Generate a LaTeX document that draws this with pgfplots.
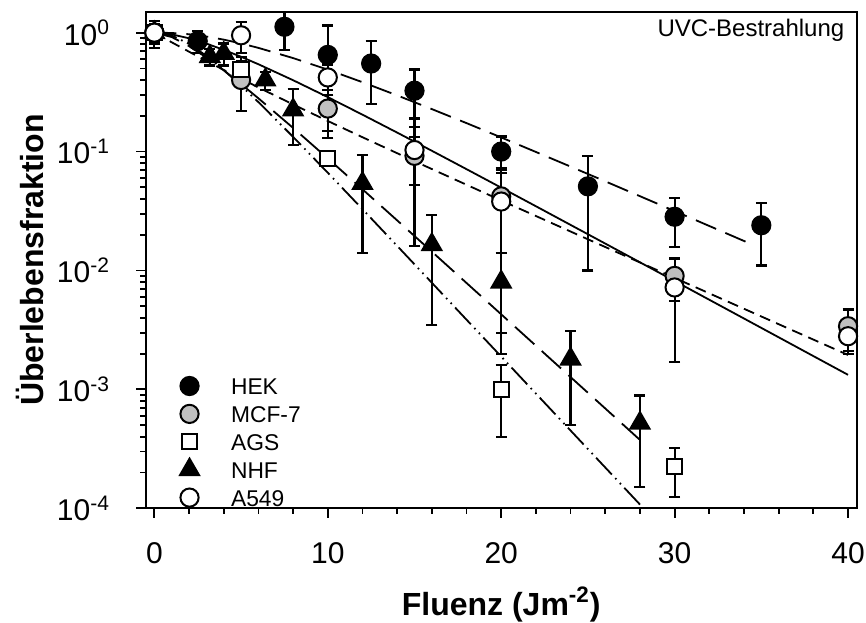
\documentclass[border=0pt]{standalone}
\usepackage{pgfplots}
\pgfplotsset{compat=1.18}
\usepackage{fontspec}
\setmainfont{Liberation Sans}
\definecolor{mcfgray}{RGB}{192,192,192}
\pgfplotsset{
  ebar/.style={black, only marks, line width=1pt, mark options={line width=0.9pt, solid},
    error bars/y dir=both, error bars/y explicit,
    error bars/error bar style={line width=1.1pt, solid, black},
    error bars/error mark options={rotate=90, mark size=2.75pt, line width=1.1pt}},
}
\begin{document}
\begin{tikzpicture}
\useasboundingbox (-72.85pt,-56.85pt) rectangle (360.15pt,254.15pt);
\begin{axis}[
  at={(0,0)}, anchor=south west,
  scale only axis, width=355.5pt, height=248.3pt,
  xmin=-0.5, xmax=40.5, ymin=1e-4, ymax=1.5, ymode=log,
  axis line style={line width=0.9pt},
  tick pos=left, tick align=outside,
  major tick length=4.8pt, minor tick length=2.6pt,
  every tick/.style={black, line width=0.9pt},
  xtick={0,10,20,30,40}, xticklabels={0,10,20,30,40},
  minor xtick={2,4,6,8,12,14,16,18,22,24,26,28,32,34,36,38},
  ytick={1e-4,1e-3,1e-2,1e-1,1},
  yticklabels={10\textsuperscript{-4},10\textsuperscript{-3},10\textsuperscript{-2},10\textsuperscript{-1},10\textsuperscript{0}},
  minor ytick={2e-4,3e-4,4e-4,5e-4,6e-4,7e-4,8e-4,9e-4,2e-3,3e-3,4e-3,5e-3,6e-3,7e-3,8e-3,9e-3,2e-2,3e-2,4e-2,5e-2,6e-2,7e-2,8e-2,9e-2,0.2,0.3,0.4,0.5,0.6,0.7,0.8,0.9},
  ticklabel style={font=\fontsize{15}{18}\selectfont},
  xticklabel style={yshift=-9pt},
  yticklabel style={xshift=-9.5pt},
  every axis x label/.style={at={(axis description cs:0.5,-0.2149)}, anchor=base, font=\fontsize{16}{19}\selectfont\bfseries},
  every axis y label/.style={at={(axis description cs:-0.144,0.5)}, anchor=base, rotate=90, font=\fontsize{16}{19}\selectfont\bfseries},
  xlabel={Fluenz (Jm\textsuperscript{-2})},
  ylabel={Überlebensfraktion},
  legend cell align=left,
  legend image code/.code={\draw[#1] plot coordinates {(0pt,0pt)};},
  legend style={draw=none, fill=none, inner sep=0pt, at={(axis description cs:0.0477,0.2723)}, anchor=north west,
    font=\fontsize{11.4}{14}\selectfont, row sep=1.45pt, column sep=16pt,
    nodes={inner sep=0pt, text height=10.5pt, text depth=2pt}},
]
% fitted curves
\addplot[forget plot, black, line width=0.9pt, dash pattern=on 11pt off 5pt] coordinates {
(0,1) (1,0.9936) (2,0.9691) (3,0.9276) (4,0.8734) (5,0.8110) (6,0.7447) (8,0.6111) (10,0.4885) (12,0.3832) (14,0.2967) (16,0.2276) (18,0.1735) (20,0.13145) (22,0.09925) (24,0.07475) (26,0.05619) (28,0.04216) (30,0.0316) (32,0.02367) (34.5,0.01647)};
\addplot[forget plot, black, line width=0.9pt] coordinates {
(0,1) (1,0.9675) (2,0.8966) (3,0.8088) (4,0.7166) (5,0.6266) (6,0.5424) (8,0.3982) (10,0.2870) (12,0.2043) (14,0.1444) (16,0.10155) (18,0.07114) (20,0.04972) (22,0.0347) (24,0.02417) (26,0.01684) (28,0.01172) (30,0.008155) (32,0.005673) (34,0.003946) (36,0.002743) (38,0.001907) (40,0.001326)};
\addplot[forget plot, black, line width=0.9pt, dash pattern=on 5.5pt off 3.3pt] coordinates {
(0,1) (1,0.8295) (2,0.6912) (3,0.5783) (4,0.4858) (5,0.4094) (6,0.3460) (8,0.2491) (10,0.1808) (12,0.1320) (15,0.0830) (20,0.0388) (25,0.0183) (30,0.00866) (35,0.004103) (40,0.001948)};
\addplot[forget plot, black, line width=0.9pt, dash pattern=on 13pt off 5pt] coordinates {
(0,1) (1,0.9182) (2,0.7702) (3,0.6174) (4,0.4819) (5,0.3698) (6,0.2804) (8,0.1581) (10,0.08761) (12,0.04818) (14,0.02638) (16,0.0144) (18,0.007851) (20,0.004279) (22,0.00233) (24,0.001269) (26,0.0006913) (27.96,0.0003807)};
\addplot[forget plot, black, line width=0.9pt, dash pattern=on 11.5pt off 2.5pt on 0.8pt off 2.5pt on 0.8pt off 2.5pt] coordinates {
(0,1) (1,0.9460) (2,0.8041) (3,0.6379) (4,0.4848) (5,0.3585) (6,0.2604) (8,0.13296) (10,0.06639) (12,0.03278) (14,0.0161) (16,0.007887) (18,0.003857) (20,0.001889) (22,0.0009227) (24,0.000451) (26,0.0002204) (28,0.0001077) (28.5,0.00009)};
% data
\addplot[ebar, mark=*, mark size=4.55pt, mark options={fill=black}]
  table[x=x, y=y, y error=e] {
x y e
0 1.0 0.26
2.5 0.85 0.18
7.5 1.12 0.40
10 0.65 0.50
12.5 0.55 0.30
15 0.325 0.165
20 0.10 0.034
25 0.051 0.041
30 0.0283 0.0125
35 0.024 0.013
};
\addlegendentry{HEK}
\addplot[ebar, mark=*, mark size=4.55pt, mark options={fill=mcfgray}]
  table[x=x, y=y, y error=e] {
x y e
0 1.0 0.19
5 0.40 0.18
10 0.23 0.10
15 0.092 0.04
20 0.042 0.028
30 0.009 0.0035
40 0.0034 0.0013
};
\addlegendentry{MCF-7}
\addplot[ebar, mark=square*, mark size=3.8pt, mark options={fill=white}]
  table[x=x, y=y, y error=e] {
x y e
0 1.0 0.1
5 0.49 0.13
10 0.088 0.01
20 0.001 0.0006
30 0.000224 0.0001
};
\addlegendentry{AGS}
\addplot[ebar, mark=triangle*, mark size=5.5pt, mark options={fill=black}]
  table[x=x, y=y, y error=e] {
x y e
0 1.0 0.1
3.2 0.63 0.10
4 0.67 0.14
6.4 0.40 0.07
8 0.224 0.11
12 0.054 0.040
16 0.0165 0.013
20 0.008 0.006
24 0.0018 0.0013
28 0.00052 0.00037
};
\addlegendentry{NHF}
\addplot[ebar, mark=*, mark size=4.55pt, mark options={fill=white}]
  table[x=x, y=y, y error=e] {
x y e
0 1.0 0.15
5 0.95 0.28
10 0.42 0.12
15 0.103 0.087
20 0.038 0.035
30 0.0072 0.0055
40 0.0028 0.0008
};
\addlegendentry{A549}
\node[anchor=north east, inner sep=0pt, xshift=-6pt, yshift=-3.3pt, font=\fontsize{12}{14}\selectfont] at (rel axis cs:1,1) {UVC-Bestrahlung};
\end{axis}
\end{tikzpicture}
\end{document}
